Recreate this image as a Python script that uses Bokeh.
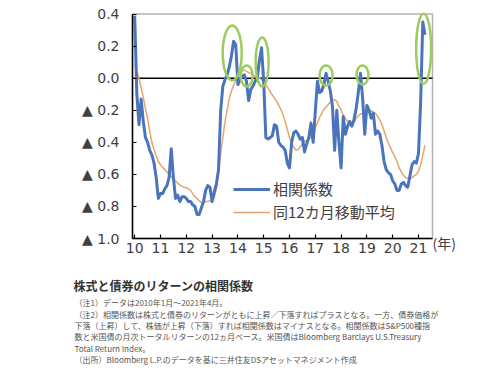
from bokeh.plotting import figure
from bokeh.models import (Range1d, FixedTicker, Label, Legend, LegendItem, BoxAnnotation)
from bokeh.embed import file_html
from bokeh.resources import INLINE

# ---- data (monthly, Jan 2010 - Apr 2021) ----
start_year = 2010
corr = [0.39, -0.10, -0.29, -0.13, -0.27, -0.37, -0.40, -0.45, -0.48, -0.53, -0.62, -0.75,
        -0.72, -0.72, -0.69, -0.67, -0.62, -0.44, -0.62, -0.75, -0.73, -0.77, -0.74, -0.74,
        -0.75, -0.77, -0.77, -0.79, -0.80, -0.85, -0.85, -0.81, -0.77, -0.70, -0.67, -0.68,
        -0.77, -0.71, -0.66, -0.57, -0.20, -0.05, -0.01, 0.02, 0.07, 0.14, 0.23, 0.21,
        -0.04, -0.01, 0.01, 0.02, -0.02, -0.14, -0.07, -0.05, -0.02, 0.00, 0.11, 0.19,
        -0.02, -0.37, -0.38, -0.37, -0.36, -0.29, -0.30, -0.40, -0.42, -0.43, -0.45, -0.53,
        -0.56, -0.40, -0.34, -0.33, -0.35, -0.38, -0.37, -0.46, -0.41, -0.37, -0.28, -0.40,
        -0.21, -0.02, -0.09, -0.08, -0.04, 0.03, -0.02, -0.08, -0.18, -0.45, -0.20, -0.40,
        -0.56, -0.24, -0.35, -0.30, -0.27, -0.30, -0.26, -0.19, -0.09, 0.03, -0.12, -0.35,
        -0.17, -0.20, -0.25, -0.22, -0.35, -0.33, -0.35, -0.42, -0.52, -0.57, -0.59, -0.60,
        -0.64, -0.66, -0.70, -0.70, -0.66, -0.65, -0.67, -0.68, -0.61, -0.54, -0.52, -0.53,
        -0.47, -0.15, 0.35, 0.27]
ma12 = [0.08, 0.045, 0.0, -0.06, -0.12, -0.19, -0.25, -0.33, -0.40, -0.445, -0.485, -0.52,
        -0.54, -0.555, -0.57, -0.585, -0.60, -0.615, -0.63, -0.64, -0.655, -0.665, -0.675, -0.68,
        -0.683, -0.69, -0.70, -0.72, -0.74, -0.75, -0.765, -0.775, -0.78, -0.77, -0.77, -0.765,
        -0.76, -0.745, -0.69, -0.58, -0.47, -0.37, -0.275, -0.20, -0.125, -0.08, -0.045, -0.015,
        0.005, 0.035, 0.045, 0.05, 0.042, 0.035, 0.03, 0.02, 0.01, 0.005, 0.0, -0.01,
        -0.025, -0.045, -0.06, -0.085, -0.105, -0.125, -0.145, -0.17, -0.195, -0.23, -0.27, -0.32,
        -0.37, -0.41, -0.43, -0.45, -0.445, -0.43, -0.405, -0.39, -0.395, -0.38, -0.37, -0.35,
        -0.31, -0.28, -0.245, -0.22, -0.195, -0.18, -0.165, -0.15, -0.14, -0.135, -0.145, -0.175,
        -0.20, -0.23, -0.25, -0.27, -0.29, -0.295, -0.275, -0.25, -0.235, -0.225, -0.22, -0.21,
        -0.205, -0.20, -0.205, -0.21, -0.22, -0.24, -0.26, -0.29, -0.33, -0.37, -0.405, -0.435,
        -0.465, -0.49, -0.52, -0.56, -0.585, -0.605, -0.62, -0.625, -0.625, -0.62, -0.61, -0.60,
        -0.58, -0.54, -0.48, -0.42]
x_years = [start_year + i / 12 for i in range(len(corr))]

x_tick_values = list(range(2010, 2022))
x_tick_labels = ["10", "11", "12", "13", "14", "15", "16", "17", "18", "19", "20", "21"]
y_tick_values = [0.4, 0.2, 0.0, -0.2, -0.4, -0.6, -0.8, -1.0]
y_tick_labels = ["0.4", "0.2", "0.0", "▲ 0.2", "▲ 0.4", "▲ 0.6", "▲ 0.8", "▲ 1.0"]
x_unit_label = "(年)"

# highlighted peaks (green ellipses): centre x (year), centre y (value)
hl_x = [2013.78, 2014.34, 2014.94, 2017.42, 2018.83, 2021.20]
hl_y = [0.157, 0.014, 0.10, 0.017, 0.02, 0.183]
hl_w = [19, 12, 13, 13, 12, 15]
hl_h = [55, 21, 49, 20, 19, 70]

series_names = ["相関係数", "同12カ月移動平均"]
title_text = "株式と債券のリターンの相関係数"
notes = [
    "（注1）データは2010年1月～2021年4月。",
    "（注2）相関係数は株式と債券のリターンがともに上昇／下落すればプラスとなる。一方、債券価格が",
    "下落（上昇）して、株価が上昇（下落）すれば相関係数はマイナスとなる。相関係数はS&P500種指",
    "数と米国債の月次トータルリターンの12ヵ月ベース。米国債はBloomberg Barclays U.S.Treasury",
    "Total Return Index。",
    "（出所）Bloomberg L.P.のデータを基に三井住友DSアセットマネジメント作成",
]

# chart box (data units) and its place on the page (pixels)
X_LO, X_HI = 2009.915, 2021.543
Y_LO, Y_HI = -1.0, 0.4
W, H = 500, 377
BOX_L, BOX_R, BOX_T, BOX_B = 132, 432, 13.5, 238
# the frame covers the whole page, so extend the ranges accordingly
sx = (X_HI - X_LO) / (BOX_R - BOX_L)
sy = (Y_HI - Y_LO) / (BOX_B - BOX_T)
x_range = Range1d(X_LO - BOX_L * sx, X_HI + (W - BOX_R) * sx)
y_range = Range1d(Y_LO - (H - BOX_B) * sy, Y_HI + BOX_T * sy)

p = figure(width=W, height=H, output_backend="svg", toolbar_location=None,
           x_range=x_range, y_range=y_range,
           min_border_left=0, min_border_right=0, min_border_top=0, min_border_bottom=0)
p.background_fill_color = "white"
p.border_fill_color = "white"
p.outline_line_color = None
p.xgrid.visible = False
p.ygrid.visible = False

JP = "Noto Sans CJK JP"
tick_font = "DejaVu Sans"

for ax in (p.xaxis[0], p.yaxis[0]):
    ax.axis_line_color = "black"
    ax.axis_line_width = 1.5
    ax.major_tick_in = 4
    ax.major_tick_out = 0
    ax.major_tick_line_color = "black"
    ax.major_tick_line_width = 1.2
    ax.minor_tick_line_color = None
    ax.major_label_text_font = tick_font
    ax.major_label_text_font_size = "14px"
    ax.major_label_text_color = "#404040"

p.xaxis.fixed_location = Y_LO
p.xaxis.bounds = (X_LO, X_HI)
p.xaxis.ticker = FixedTicker(ticks=x_tick_values)
p.xaxis.major_label_overrides = dict(zip(x_tick_values, x_tick_labels))
p.xaxis.major_label_standoff = 4
p.yaxis.fixed_location = X_LO
p.yaxis.bounds = (Y_LO, Y_HI)
p.yaxis.ticker = FixedTicker(ticks=y_tick_values)
p.yaxis.major_label_overrides = dict(zip(y_tick_values, y_tick_labels))
p.yaxis.major_label_standoff = 13

# chart box and zero line
p.add_layout(BoxAnnotation(left=X_LO, right=X_HI, bottom=Y_LO, top=Y_HI, fill_alpha=0,
                           line_color="black", line_width=1.5, level="underlay"))
p.segment(x0=[X_LO], y0=[0], x1=[X_HI], y1=[0], line_color="black", line_width=1.5)

r_ma = p.line(x_years, ma12, line_color="#E8A46C", line_width=1.5)
r_corr = p.line(x_years, corr, line_color="#4A74BC", line_width=3, line_join="round")

p.ellipse(x=hl_x, y=hl_y, width=hl_w, height=hl_h, width_units="screen", height_units="screen",
          fill_color=None, line_color="#9CCB5E", line_width=2.5)

legend = Legend(items=[LegendItem(label=series_names[0], renderers=[r_corr]),
                       LegendItem(label=series_names[1], renderers=[r_ma])],
                location=(233, H - 222), glyph_width=37, glyph_height=20, label_height=20,
                label_standoff=3, spacing=2, padding=0, margin=0,
                border_line_color=None, background_fill_alpha=0,
                label_text_font=JP, label_text_font_size="15px", label_text_color="#404040")
p.add_layout(legend)


def page_label(px, py, text, **kw):
    # frame == page: screen x from the left, screen y upward from the bottom
    return Label(x=px, y=H - py, x_units="screen", y_units="screen", text=text,
                 text_font=JP, text_baseline="middle", **kw)


p.add_layout(page_label(432, 242, x_unit_label, text_font_size="14px", text_color="#404040"))
p.add_layout(page_label(73, 285, title_text, text_font_size="12px",
                        text_font_style="bold", text_color="#333333"))
note_y = [302, 313.5, 325, 336, 347.5, 359]
for t, yy in zip(notes, note_y):
    p.add_layout(page_label(74, yy, t, text_font_size="8px", text_color="#555555"))

open("out.html", "w").write(file_html(p, INLINE))
